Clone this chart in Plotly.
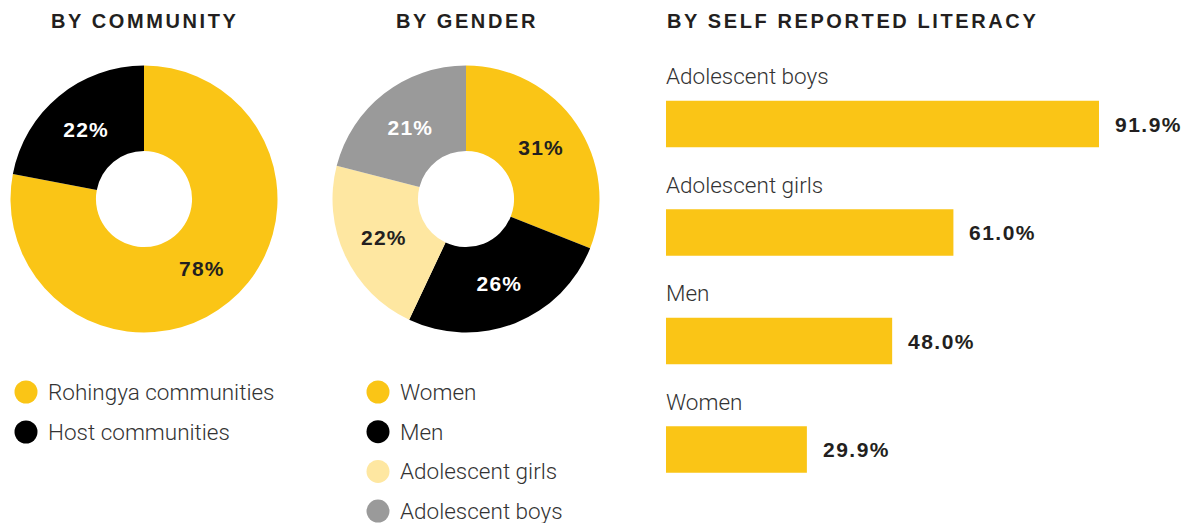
import plotly.graph_objects as go

W, H = 1200, 523
YELLOW = "#FAC516"
BLACK = "#000000"
LIGHT = "#FEE7A1"
GREY = "#9A9A9A"
TXT = "#231F20"
BODYCOL = "#333333"

# ---- data ----
community_labels = ["Rohingya communities", "Host communities"]
community_values = [78, 22]
community_colors = [YELLOW, BLACK]
community_textcol = [TXT, "white"]

gender_labels = ["Women", "Men", "Adolescent girls", "Adolescent boys"]
gender_values = [31, 26, 22, 21]
gender_colors = [YELLOW, BLACK, LIGHT, GREY]
gender_textcol = [TXT, "white", TXT, "white"]

literacy_labels = ["Adolescent boys", "Adolescent girls", "Men", "Women"]
literacy_values = [91.9, 61.0, 48.0, 29.9]

titles = ["BY COMMUNITY", "BY GENDER", "BY SELF REPORTED LITERACY"]

BOLD = "Liberation Sans"
BODY = "Roboto"
BODY_SIZE = 22.5


def spaced(text, px):
    return f'<span style="letter-spacing:{px}px">{text}</span>'


fig = go.Figure()


def dom_x(a, b):
    return [a / W, b / W]


def dom_y(top, bottom):
    return [(H - bottom) / H, (H - top) / H]


pie_font = dict(family=BOLD, size=21, weight=700)

fig.add_trace(go.Pie(
    labels=community_labels, values=community_values, sort=False,
    direction="clockwise", rotation=0, hole=0.36,
    marker=dict(colors=community_colors, line=dict(width=0)),
    texttemplate=spaced("%{value}%", 1.2), textposition="inside",
    insidetextorientation="horizontal",
    textfont=dict(pie_font, color=community_textcol),
    domain=dict(x=dom_x(10.5, 277.5), y=dom_y(65.5, 332.5)),
    showlegend=False, hoverinfo="label+value",
))

fig.add_trace(go.Pie(
    labels=gender_labels, values=gender_values, sort=False,
    direction="clockwise", rotation=0, hole=0.36,
    marker=dict(colors=gender_colors, line=dict(width=0)),
    texttemplate=spaced("%{value}%", 1.2), textposition="inside",
    insidetextorientation="horizontal",
    textfont=dict(pie_font, color=gender_textcol),
    domain=dict(x=dom_x(332.5, 599.5), y=dom_y(65.5, 332.5)),
    showlegend=False, hoverinfo="label+value",
))

# ---- bar chart ----
fig.add_trace(go.Bar(
    x=literacy_values, y=literacy_labels, orientation="h",
    marker=dict(color=YELLOW, line=dict(width=0)), width=0.43,
    xaxis="x", yaxis="y", showlegend=False, hoverinfo="x+y",
))

px_per_unit = 433 / 91.9
bar_left = 666
fig.update_layout(
    xaxis=dict(domain=[bar_left / W, 1], range=[0, (W - bar_left) / px_per_unit],
               visible=False, fixedrange=True),
    yaxis=dict(domain=[0, 1], type="category",
               categoryorder="array", categoryarray=literacy_labels,
               range=[3.677, -1.143], visible=False, fixedrange=True),
)

annotations = []
for lab, val in zip(literacy_labels, literacy_values):
    annotations.append(dict(x=0, y=lab, xref="x", yref="y", text=lab,
                            xanchor="left", yanchor="middle", yshift=48, xshift=-2,
                            showarrow=False,
                            font=dict(family=BODY, size=BODY_SIZE, color=BODYCOL, weight=300)))
    annotations.append(dict(x=val, y=lab, xref="x", yref="y", text=spaced(f"{val:.1f}%", 1.5),
                            xanchor="left", yanchor="middle", xshift=14, showarrow=False,
                            font=dict(family=BOLD, size=21, color=TXT, weight=700)))


# ---- custom legends on a pixel overlay axis ----
def legend_trace(labels, colors, x0, y0, step):
    return go.Scatter(
        x=[x0] * len(labels), y=[y0 + step * i for i in range(len(labels))],
        mode="markers", marker=dict(size=23, color=colors, line=dict(width=0)),
        xaxis="x2", yaxis="y2", showlegend=False, hoverinfo="skip",
    )


fig.add_trace(legend_trace(community_labels, community_colors, 26, 392, 40))
fig.add_trace(legend_trace(gender_labels, gender_colors, 378, 392, 39.7))
for i, lab in enumerate(community_labels):
    annotations.append(dict(x=46, y=392 + 40 * i, xref="x2", yref="y2", text=lab,
                            xanchor="left", yanchor="middle", showarrow=False,
                            font=dict(family=BODY, size=BODY_SIZE, color=BODYCOL, weight=300)))
for i, lab in enumerate(gender_labels):
    annotations.append(dict(x=398, y=392 + 39.7 * i, xref="x2", yref="y2", text=lab,
                            xanchor="left", yanchor="middle", showarrow=False,
                            font=dict(family=BODY, size=BODY_SIZE, color=BODYCOL, weight=300)))

fig.update_layout(
    xaxis2=dict(domain=[0, 1], range=[0, W], visible=False, fixedrange=True, anchor="y2"),
    yaxis2=dict(domain=[0, 1], range=[H, 0], visible=False, fixedrange=True, anchor="x2",
                overlaying="y"),
)

# ---- titles ----
title_pos = [(145, "center"), (467, "center"), (665, "left")]
for t, (x, anc) in zip(titles, title_pos):
    annotations.append(dict(x=x, y=21, xref="x2", yref="y2", text=spaced(t, 2.6), xanchor=anc,
                            yanchor="middle", showarrow=False,
                            font=dict(family=BOLD, size=20, color=TXT, weight=700)))

fig.update_layout(
    annotations=annotations,
    width=W, height=H, margin=dict(l=0, r=0, t=0, b=0),
    paper_bgcolor="white", plot_bgcolor="rgba(0,0,0,0)",
)

fig.write_html("out.html", config={"displayModeBar": False})
